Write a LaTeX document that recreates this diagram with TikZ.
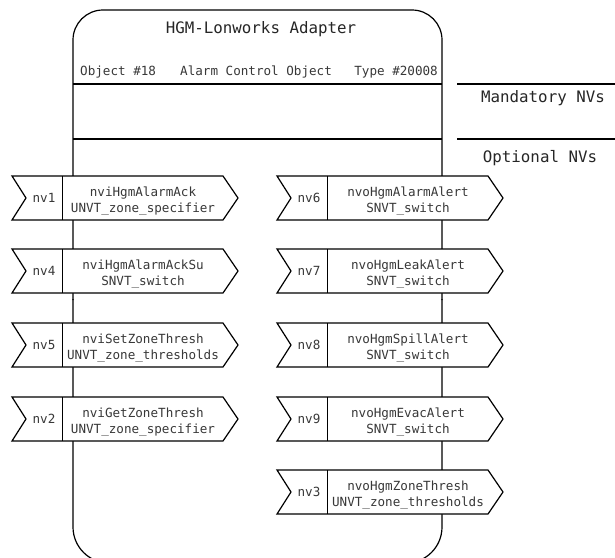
\documentclass[tikz,border=0pt]{standalone}
\usepackage{fontspec}
\newfontfamily\cadfont{DejaVu Sans Mono}
\tikzset{
  boxline/.style={draw=black, line width=1.2pt},
  cadtext/.style={inner sep=0pt, anchor=base, text=black!78, font=\cadfont\fontsize{12.6}{14}\selectfont},
  bigtext/.style={inner sep=0pt, anchor=base, text=black!85, font=\cadfont\fontsize{15.8}{18}\selectfont},
  pics/nvbox/.style n args={3}{code={
    \draw[boxline, fill=white] (0,0) -- (211,0) -- (226,22) -- (211,44) -- (0,44) -- (14,22) -- cycle;
    \draw[boxline, line width=1pt] (50,0) -- (50,44);
    \node[cadtext] (-id) at (32,26) {#1};
    \node[cadtext] (-name) at (131,20) {#2};
    \node[cadtext] (-type) at (131,36) {#3};
  }}
}
\begin{document}
\begin{tikzpicture}[x=1pt,y=-1pt]
\clip (0,0) rectangle (615,557);
\fill[white] (0,0) rectangle (615,557);
% main adapter box
\draw[boxline, rounded corners=30] (73,300) -- (73,10) -- (442,10) -- (442,300);
\draw[boxline, rounded corners=36] (442,299) -- (442,563) -- (73,563) -- (73,299);
% separator lines
\draw[boxline] (73,84) -- (442,84);
\draw[boxline] (73,139) -- (442,139);
\draw[boxline] (457,84) -- (615,84);
\draw[boxline] (457,139) -- (615,139);
% header texts
\node[bigtext] (title) at (261,33) {HGM-Lonworks Adapter};
\node[cadtext, anchor=base west] (objnum) at (80,75) {Object \#18};
\node[cadtext, anchor=base west] (objname) at (180,75) {Alarm Control Object};
\node[cadtext, anchor=base east] (objtype) at (438,75) {Type \#20008};
\node[bigtext] (mand) at (543,102) {Mandatory NVs};
\node[bigtext] (opt) at (540,162) {Optional NVs};
% left column
\pic (nv1) at (12,176) {nvbox={nv1}{nviHgmAlarmAck}{UNVT\_zone\_specifier}};
\pic (nv4) at (12,249) {nvbox={nv4}{nviHgmAlarmAckSu}{SNVT\_switch}};
\pic (nv5) at (12,323) {nvbox={nv5}{nviSetZoneThresh}{UNVT\_zone\_thresholds}};
\pic (nv2) at (12,397) {nvbox={nv2}{nviGetZoneThresh}{UNVT\_zone\_specifier}};
% right column
\pic (nv6) at (277,176) {nvbox={nv6}{nvoHgmAlarmAlert}{SNVT\_switch}};
\pic (nv7) at (277,249) {nvbox={nv7}{nvoHgmLeakAlert}{SNVT\_switch}};
\pic (nv8) at (277,323) {nvbox={nv8}{nvoHgmSpillAlert}{SNVT\_switch}};
\pic (nv9) at (277,397) {nvbox={nv9}{nvoHgmEvacAlert}{SNVT\_switch}};
\pic (nv3) at (277,470) {nvbox={nv3}{nvoHgmZoneThresh}{UNVT\_zone\_thresholds}};
\end{tikzpicture}
\end{document}
